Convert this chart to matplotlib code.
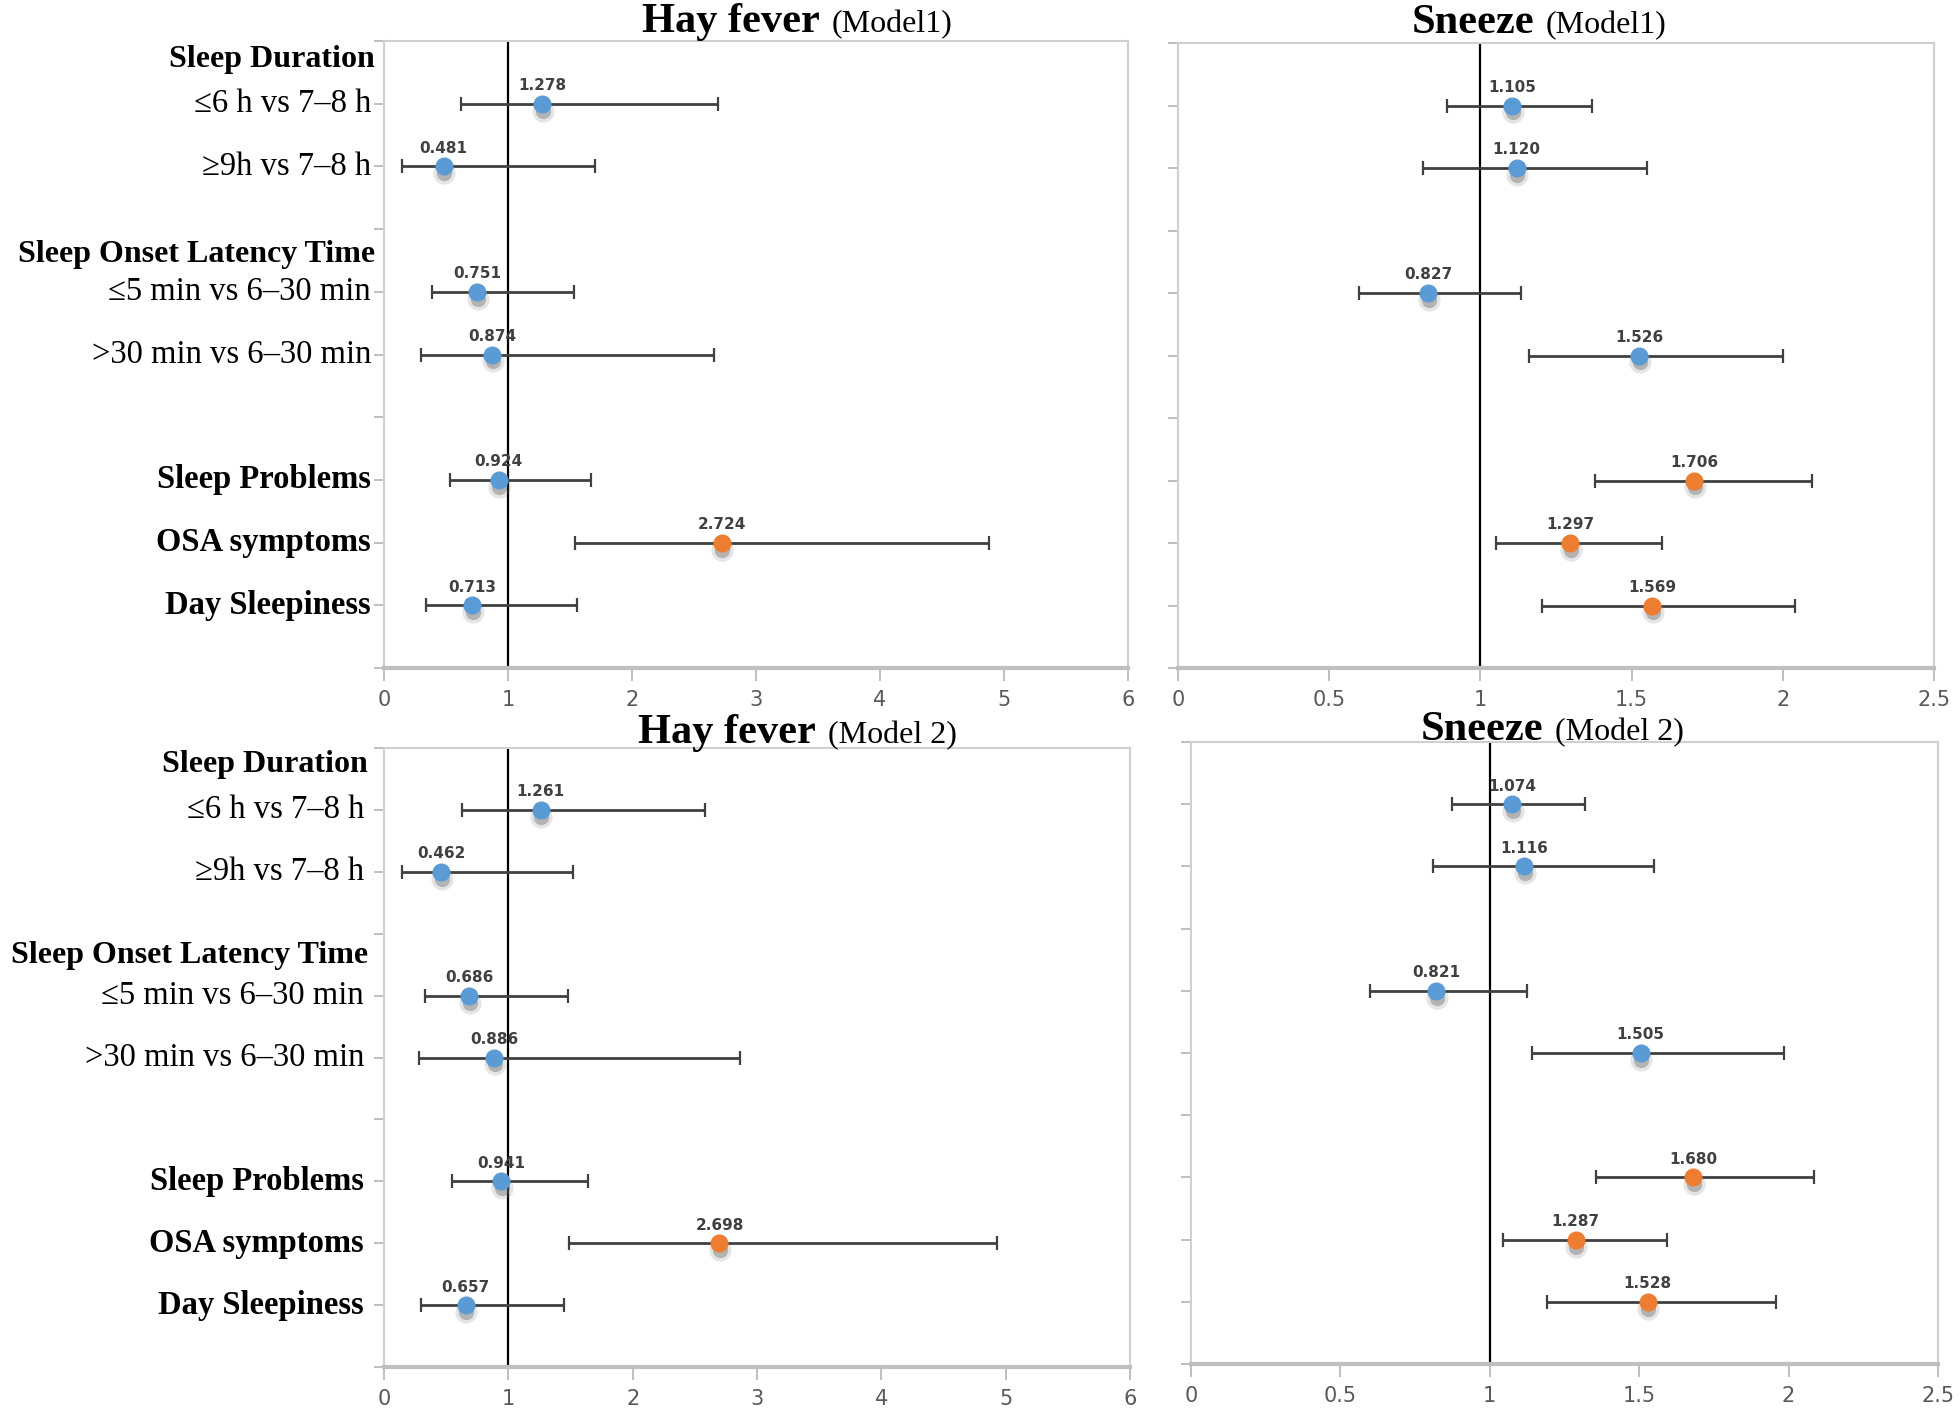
"""
Forest plots: sleep factors vs hay fever / sneeze, two models.
"""

import matplotlib
matplotlib.use("Agg")
import matplotlib.pyplot as plt
from matplotlib import font_manager
from matplotlib.transforms import ScaledTranslation

# ── Data ─────────────────────────────────────────────────────────────────
ROW_Y = [9, 8, 6, 5, 3, 2, 1]
ROW_LABELS = ["≤6 h vs 7–8 h", "≥9h vs 7–8 h", "≤5 min vs 6–30 min",
              ">30 min vs 6–30 min", "Sleep Problems", "OSA symptoms",
              "Day Sleepiness"]
ROW_BOLD = [False, False, False, False, True, True, True]
HEADERS = ["Sleep Duration", "Sleep Onset Latency Time"]

hay1_or = [1.278, 0.481, 0.751, 0.874, 0.924, 2.724, 0.713]
hay1_lo = [0.62, 0.145, 0.39, 0.295, 0.53, 1.54, 0.34]
hay1_hi = [2.69, 1.70, 1.53, 2.66, 1.67, 4.88, 1.56]

sneeze1_or = [1.105, 1.120, 0.827, 1.526, 1.706, 1.297, 1.569]
sneeze1_lo = [0.89, 0.81, 0.60, 1.16, 1.38, 1.05, 1.205]
sneeze1_hi = [1.37, 1.55, 1.135, 2.00, 2.095, 1.60, 2.04]

hay2_or = [1.261, 0.462, 0.686, 0.886, 0.941, 2.698, 0.657]
hay2_lo = [0.625, 0.143, 0.33, 0.28, 0.55, 1.49, 0.30]
hay2_hi = [2.585, 1.52, 1.48, 2.86, 1.64, 4.93, 1.45]

sneeze2_or = [1.074, 1.116, 0.821, 1.505, 1.680, 1.287, 1.528]
sneeze2_lo = [0.874, 0.81, 0.60, 1.14, 1.356, 1.043, 1.19]
sneeze2_hi = [1.32, 1.548, 1.123, 1.985, 2.084, 1.593, 1.957]

hay_sig = [0, 0, 0, 0, 0, 1, 0]
sneeze_sig = [0, 0, 0, 0, 1, 1, 1]

# ── Styling ──────────────────────────────────────────────────────────────
BLUE, ORANGE = "#5B9BD5", "#ED7D31"
BAR_COL = "#404040"
GRID_COL = "#BFBFBF"

_names = {f.name for f in font_manager.fontManager.ttflist}
NARROW = "Liberation Sans Narrow" if "Liberation Sans Narrow" in _names else "DejaVu Sans"
SERIF = ["Liberation Serif", "DejaVu Serif"]

fig = plt.figure(figsize=(19.6, 14.14), dpi=100)
W, H = 1960, 1414


def add_axes_px(left, top, right, bottom):
    return fig.add_axes([left / W, 1 - bottom / H, (right - left) / W, (bottom - top) / H])


def draw_panel(ax, odds, lo, hi, sig, xmax, xticks):
    ax.set_xlim(0, xmax)
    ax.set_ylim(0, 10)
    ax.axvline(1, color="black", lw=1.6, zorder=1)
    shadow = ax.transData + ScaledTranslation(0.5 / 72, -5 / 72, fig.dpi_scale_trans)
    for y, o, l, h, s in zip(ROW_Y, odds, lo, hi, sig):
        ax.errorbar(o, y, xerr=[[o - l], [h - o]], fmt="none", ecolor=BAR_COL,
                    elinewidth=2.0, capsize=5, capthick=1.6, zorder=2)
        # soft drop shadow under the marker
        ax.plot(o, y, "o", ms=16, color="gray", alpha=0.2, mew=0,
                transform=shadow, zorder=2.5)
        ax.plot(o, y, "o", ms=11, color="dimgray", alpha=0.4, mew=0,
                transform=shadow, zorder=2.6)
        col = ORANGE if s else BLUE
        ax.plot(o, y, "o", ms=12, color=col, mec=col, zorder=3)
        ax.annotate(f"{o:.3f}", (o, y), xytext=(0, 13), textcoords="offset points",
                    ha="center", va="center", fontsize=11, fontweight="bold",
                    color=BAR_COL, family=NARROW)
    ax.set_xticks(xticks)
    ax.set_xticklabels([f"{t:g}" for t in xticks])
    ax.set_yticks(range(0, 11))
    ax.set_yticklabels([])
    ax.tick_params(axis="x", length=9, width=1.4, color=GRID_COL, colors="#595959",
                   labelsize=15, pad=7)
    ax.tick_params(axis="y", length=7, width=1.4, color=GRID_COL)
    for lab in ax.get_xticklabels():
        lab.set_family(NARROW)
    for side in ["top", "right", "left"]:
        ax.spines[side].set_color("#D0D0D0")
        ax.spines[side].set_linewidth(1.5)
    ax.spines["bottom"].set_color(GRID_COL)
    ax.spines["bottom"].set_linewidth(3)


def row_labels(ax, header_y, pad_px):
    trans = ax.get_yaxis_transform()
    xoff = -pad_px / (ax.get_position().width * W)
    for y, lab, b in zip(ROW_Y, ROW_LABELS, ROW_BOLD):
        ax.text(xoff, y, lab, transform=trans, ha="right", va="center",
                fontsize=23.5, family=SERIF, fontweight="bold" if b else "normal")
    for y, lab in zip(header_y, HEADERS):
        ax.text(xoff + 0.005, y, lab, transform=trans, ha="right", va="center",
                fontsize=23, family=SERIF, fontweight="bold")


def title(split_px, base_px, bold, rest):
    x = split_px / W
    y = 1 - base_px / H
    fig.text(x - 0.003, y, bold, ha="right", va="baseline", fontsize=30.5,
             fontweight="bold", family=SERIF)
    fig.text(x + 0.003, y, rest, ha="left", va="baseline", fontsize=23, family=SERIF)


ax_tl = add_axes_px(384, 41, 1128, 668)
ax_tr = add_axes_px(1178, 43, 1934, 668)
ax_bl = add_axes_px(384, 748, 1130, 1367)
ax_br = add_axes_px(1191, 742, 1938, 1364)

draw_panel(ax_tl, hay1_or, hay1_lo, hay1_hi, hay_sig, 6, [0, 1, 2, 3, 4, 5, 6])
draw_panel(ax_tr, sneeze1_or, sneeze1_lo, sneeze1_hi, sneeze_sig, 2.5,
           [0, 0.5, 1, 1.5, 2, 2.5])
draw_panel(ax_bl, hay2_or, hay2_lo, hay2_hi, hay_sig, 6, [0, 1, 2, 3, 4, 5, 6])
draw_panel(ax_br, sneeze2_or, sneeze2_lo, sneeze2_hi, sneeze_sig, 2.5,
           [0, 0.5, 1, 1.5, 2, 2.5])

row_labels(ax_tl, [9.7, 6.6], 13)
row_labels(ax_bl, [9.73, 6.64], 20)

title(826, 32, "Hay fever", "(Model1)")
title(1540, 33, "Sneeze", "(Model1)")
title(822, 743, "Hay fever", "(Model 2)")
title(1549, 740, "Sneeze", "(Model 2)")

fig.savefig("out.png", dpi=100, facecolor="white")
